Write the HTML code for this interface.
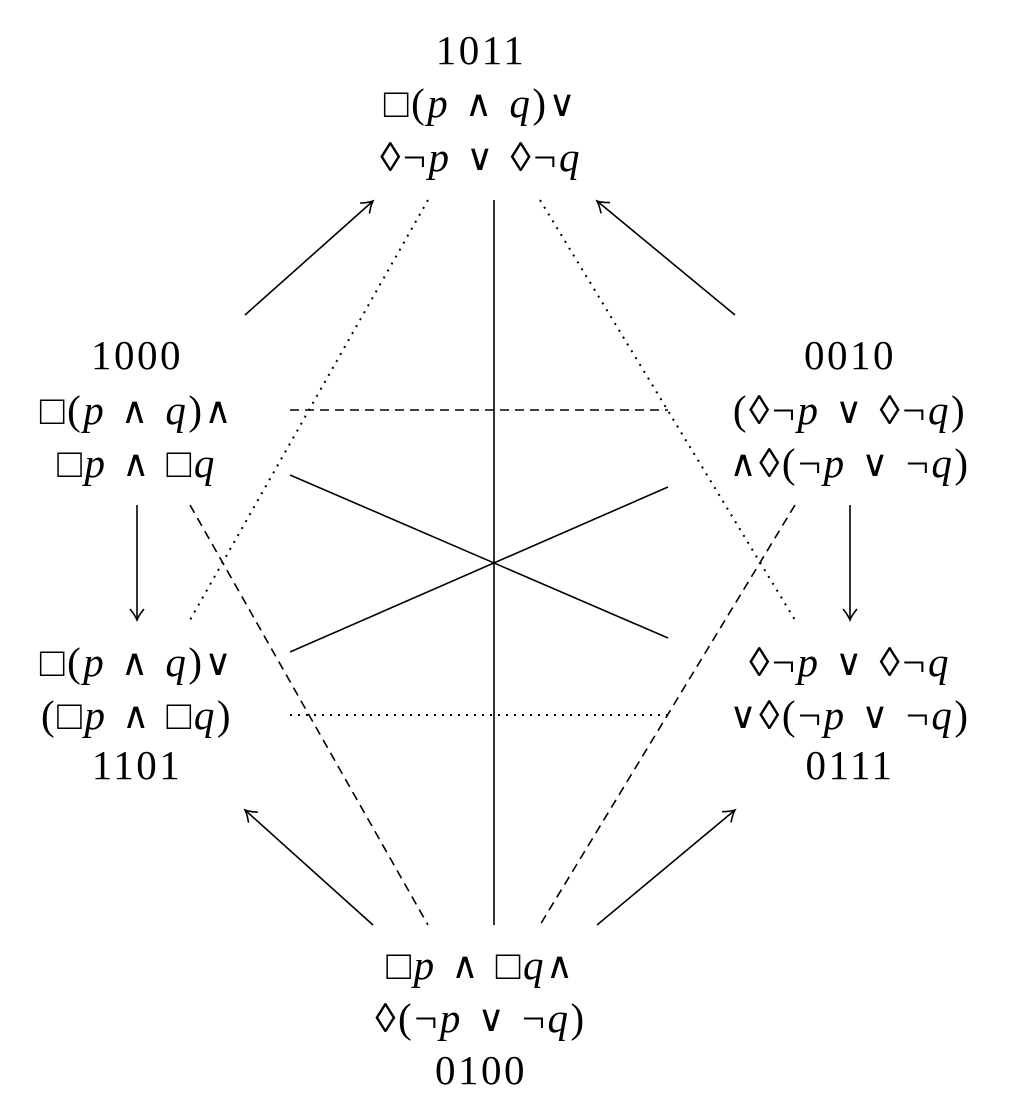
<!DOCTYPE html>
<html><head><meta charset="utf-8"><style>
html,body{margin:0;padding:0;background:#fff;}
svg{display:block}
text{font-family:"Liberation Serif","DejaVu Serif",serif;font-size:41px;fill:#000;text-anchor:middle;dominant-baseline:central;letter-spacing:2.5px;word-spacing:2px}
tspan.i{font-style:italic}
tspan.o{font-family:"DejaVu Sans",sans-serif;font-weight:200;font-size:37px}
</style></head><body>
<svg width="1016" height="1110" viewBox="0 0 1016 1110" xmlns="http://www.w3.org/2000/svg">
<defs>
<marker id="a" markerWidth="16" markerHeight="16" refX="13" refY="8" orient="auto" markerUnits="userSpaceOnUse">
<path d="M2,1 Q8,6 13,8 Q8,10 2,15" fill="none" stroke="#000" stroke-width="1.6"/>
</marker>
</defs>
<g stroke="#000" stroke-width="1.6" fill="none">
<line x1="245" y1="315" x2="373" y2="201" marker-end="url(#a)"/>
<line x1="735" y1="315" x2="597" y2="201" marker-end="url(#a)"/>
<line x1="137" y1="505" x2="137" y2="620" marker-end="url(#a)"/>
<line x1="850" y1="505" x2="850" y2="620" marker-end="url(#a)"/>
<line x1="373" y1="925" x2="245" y2="810" marker-end="url(#a)"/>
<line x1="597" y1="925" x2="735" y2="810" marker-end="url(#a)"/>
<line x1="494" y1="200" x2="494" y2="925"/>
<line x1="290" y1="475" x2="668" y2="638"/>
<line x1="290" y1="652" x2="668" y2="487"/>
<line x1="290" y1="410" x2="668" y2="410" stroke-dasharray="9,6"/>
<line x1="190" y1="505" x2="428" y2="925" stroke-dasharray="9,6"/>
<line x1="795" y1="505" x2="540" y2="925" stroke-dasharray="9,6"/>
<line x1="290" y1="715" x2="668" y2="715" stroke-dasharray="2,6" stroke-width="2"/>
<line x1="428" y1="200" x2="190" y2="620" stroke-dasharray="2,6" stroke-width="2"/>
<line x1="540" y1="200" x2="795" y2="620" stroke-dasharray="2,6" stroke-width="2"/>
</g>
<text x="481" y="50">1011</text>
<text x="481" y="103">□(<tspan class="i">p</tspan> <tspan class="o">∧</tspan> <tspan class="i">q</tspan>)<tspan class="o">∨</tspan></text>
<text x="481" y="157">◊¬<tspan class="i">p</tspan> <tspan class="o">∨</tspan> ◊¬<tspan class="i">q</tspan></text>

<text x="137" y="355">1000</text>
<text x="137" y="410">□(<tspan class="i">p</tspan> <tspan class="o">∧</tspan> <tspan class="i">q</tspan>)<tspan class="o">∧</tspan></text>
<text x="137" y="463">□<tspan class="i">p</tspan> <tspan class="o">∧</tspan> □<tspan class="i">q</tspan></text>

<text x="850" y="355">0010</text>
<text x="850" y="410">(◊¬<tspan class="i">p</tspan> <tspan class="o">∨</tspan> ◊¬<tspan class="i">q</tspan>)</text>
<text x="850" y="463"><tspan class="o">∧</tspan>◊(¬<tspan class="i">p</tspan> <tspan class="o">∨</tspan> ¬<tspan class="i">q</tspan>)</text>

<text x="137" y="662">□(<tspan class="i">p</tspan> <tspan class="o">∧</tspan> <tspan class="i">q</tspan>)<tspan class="o">∨</tspan></text>
<text x="137" y="715">(□<tspan class="i">p</tspan> <tspan class="o">∧</tspan> □<tspan class="i">q</tspan>)</text>
<text x="137" y="765">1101</text>

<text x="850" y="662">◊¬<tspan class="i">p</tspan> <tspan class="o">∨</tspan> ◊¬<tspan class="i">q</tspan></text>
<text x="850" y="715"><tspan class="o">∨</tspan>◊(¬<tspan class="i">p</tspan> <tspan class="o">∨</tspan> ¬<tspan class="i">q</tspan>)</text>
<text x="850" y="765">0111</text>

<text x="481" y="965">□<tspan class="i">p</tspan> <tspan class="o">∧</tspan> □<tspan class="i">q</tspan><tspan class="o">∧</tspan></text>
<text x="481" y="1018">◊(¬<tspan class="i">p</tspan> <tspan class="o">∨</tspan> ¬<tspan class="i">q</tspan>)</text>
<text x="481" y="1070">0100</text>
</svg>
</body></html>
